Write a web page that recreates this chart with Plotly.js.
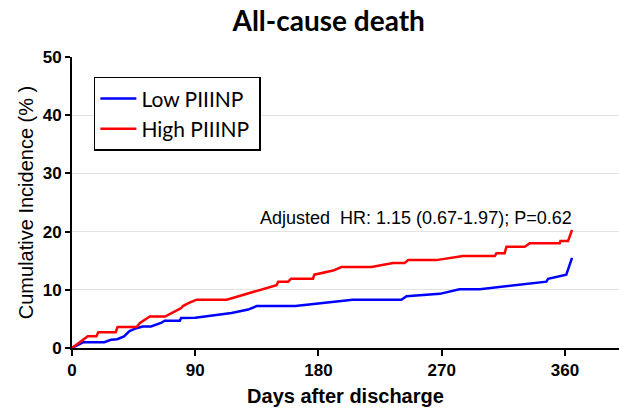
<!DOCTYPE html>
<html>
<head>
<meta charset="utf-8">
<script src="https://cdn.plot.ly/plotly-3.0.1.min.js"></script>
<style>html,body{margin:0;padding:0;background:#fff;}#chart{width:619px;height:411px;}</style>
</head>
<body>
<div id="chart"></div>
<script>
// Data
const lowDays = [0, 8.3, 23.6, 28.5, 33, 38, 42, 47, 51.6, 57.7, 65, 67.7, 78.8, 79.7, 90, 100, 116.5, 128.7, 134.8, 163, 205, 240.6, 244.3, 268.6, 283, 297.8, 346.5, 347.7, 361, 365.2];
const lowVals = [0, 1.0, 1.0, 1.4, 1.5, 2.0, 2.9, 3.4, 3.7, 3.7, 4.3, 4.7, 4.7, 5.15, 5.2, 5.5, 6.0, 6.6, 7.2, 7.2, 8.3, 8.3, 8.9, 9.3, 10.1, 10.1, 11.4, 11.9, 12.6, 15.5];
const highDays = [0, 11.5, 17.8, 19.2, 31.9, 33.3, 47.2, 49.6, 56.9, 67.9, 75.2, 80, 81, 85, 91, 113, 149.4, 150.6, 157.9, 160, 176, 177, 190.7, 196.8, 218.7, 234.5, 243, 245.5, 266, 285.6, 308.8, 310, 316, 317.3, 330.7, 334.3, 356.2, 356.7, 362.3, 365.2];
const highVals = [0, 2.0, 2.0, 2.7, 2.7, 3.6, 3.6, 4.3, 5.4, 5.4, 6.3, 6.9, 7.2, 7.7, 8.3, 8.3, 10.8, 11.4, 11.4, 11.9, 11.9, 12.6, 13.3, 13.9, 13.9, 14.6, 14.6, 15.1, 15.1, 15.8, 15.8, 16.3, 16.3, 17.4, 17.4, 18.0, 18.0, 18.4, 18.4, 20.3];
const seriesNames = ["Low PIIINP", "High PIIINP"];
const xTicks = [0, 90, 180, 270, 360];
const yTicks = [0, 10, 20, 30, 40, 50];
const titleText = "All-cause death";
const xTitle = "Days after discharge";
const yTitle = "Cumulative Incidence (% )";
const noteText = "Adjusted  HR: 1.15 (0.67-1.97); P=0.62";

const tickFont = {family: "Liberation Sans, Arial, sans-serif", size: 17, color: "#000", weight: "bold"};
const legendPad = "\u00a0";

const traces = [
  {x: lowDays, y: lowVals, name: seriesNames[0] + legendPad, mode: "lines", line: {color: "#0000ff", width: 2.5}},
  {x: highDays, y: highVals, name: seriesNames[1] + legendPad, mode: "lines", line: {color: "#ff0000", width: 2.5}}
];

const layout = {
  width: 619, height: 411,
  margin: {l: 72, r: 0, t: 57, b: 63},
  paper_bgcolor: "#fff", plot_bgcolor: "#fff",
  showlegend: true,
  title: {text: titleText, x: 0.531, xref: "container", y: 0.949, yref: "container", yanchor: "middle",
          font: {family: "Lato, Open Sans, sans-serif", size: 28, color: "#000", weight: "bold"}},
  xaxis: {
    range: [0, 399.5], tickvals: xTicks, ticktext: xTicks.map(String),
    showline: true, linecolor: "#000", linewidth: 2, ticks: "outside", ticklen: 6, tickwidth: 2, tickcolor: "#000",
    showgrid: false, zeroline: false, tickfont: tickFont,
    title: {text: xTitle, standoff: 10, font: {family: "Liberation Sans, Arial, sans-serif", size: 20, color: "#000", weight: "bold"}}
  },
  yaxis: {
    range: [0, 50], tickvals: yTicks, ticktext: yTicks.map(String),
    showline: true, linecolor: "#000", linewidth: 2, ticks: "outside", ticklen: 5, tickwidth: 2, tickcolor: "#000",
    showgrid: true, gridcolor: "#e3e3e3", gridwidth: 1, zeroline: false, tickfont: tickFont,
    title: {text: yTitle, standoff: 4, font: {family: "Liberation Sans, Arial, sans-serif", size: 20, color: "#000"}}
  },
  legend: {
    x: 0.04, y: 0.932, xanchor: "left", yanchor: "top",
    bordercolor: "#000", borderwidth: 1.5, bgcolor: "#fff",
    font: {family: "Lato, Open Sans, sans-serif", size: 21, color: "#000"},
    itemwidth: 36,
    tracegroupgap: 0
  },
  annotations: [{
    text: noteText, xref: "paper", yref: "paper", x: 0.629, y: 0.448, xanchor: "center", yanchor: "middle",
    showarrow: false, font: {family: "Liberation Sans, Arial, sans-serif", size: 18, color: "#000"}
  }]
};

Plotly.newPlot("chart", traces, layout, {displayModeBar: false, staticPlot: true});
</script>
</body>
</html>
